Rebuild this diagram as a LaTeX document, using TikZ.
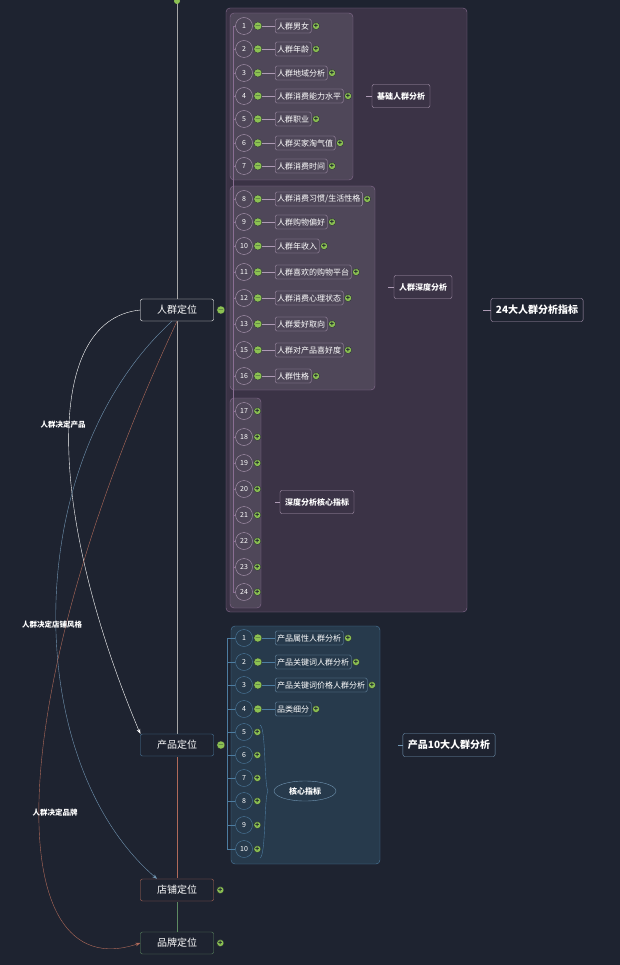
\documentclass[tikz,border=0pt]{standalone}
\usepackage{fontspec}
\setmainfont{Noto Sans CJK SC}
\usetikzlibrary{positioning,arrows.meta,shapes.geometric}
\definecolor{bg}{HTML}{1E2330}
\definecolor{pfill}{HTML}{3B3346}
\definecolor{pline}{HTML}{8A6E93}
\definecolor{bfill}{HTML}{273A4C}
\definecolor{bline}{HTML}{4D7CA0}
\definecolor{tgreen}{HTML}{8CC152}
\definecolor{rline}{HTML}{B06A5A}
\definecolor{gline}{HTML}{5E8A62}
\tikzset{main node/.style={rectangle,rounded corners=2pt,draw=#1,fill=bg,text=white,minimum width=73,minimum height=22,inner sep=0pt,font=\fontsize{10}{10}\selectfont},
         num/.style={circle,draw=#1,fill=none,text=white,minimum size=17,inner sep=0pt,font=\fontsize{7}{7}\selectfont},
         item/.style={rectangle,rounded corners=1.5pt,draw=#1,text=white,inner sep=2pt,minimum height=14,font=\fontsize{8}{8}\selectfont},
         tag/.style={rectangle,rounded corners=2pt,draw=#1,text=white,inner sep=5pt,minimum height=23,font=\bfseries\fontsize{8}{8}\selectfont},
         tog/.style={circle,fill=tgreen,draw=bg,line width=0.3pt,minimum size=7,inner sep=0pt,text=bg,font=\bfseries\fontsize{7}{6}\selectfont},
         curve label/.style={text=white,font=\bfseries\fontsize{7.5}{7.5}\selectfont}
}
\begin{document}
\begin{tikzpicture}[x=1pt,y=-1pt,>=Stealth]
\fill[bg] (0,0) rectangle (620,965);
\useasboundingbox (0,0) rectangle (620,965);
% spine
\draw[gray!70] (177,0) -- (177,735);
\draw[rline] (177,757) -- (177,878);
\draw[gline] (177,902) -- (177,932);
\fill[tgreen] (177,1) circle (3);
% main topics
\node[main node=white!80] (crowd) at (177,310) {人群定位};
\node[main node=bline] (product) at (177,745) {产品定位};
\node[main node=rline] (shop) at (177,890) {店铺定位};
\node[main node=gline] (brand) at (177,943) {品牌定位};
\foreach \n/\s in {crowd/$-$,product/$-$,shop/+,brand/+}
  \node[tog,right=3 of \n] {\s};
% crowd group
\draw[rounded corners=4pt,draw=pline,fill=pfill] (226,8) rectangle (467,612);
\draw[rounded corners=4pt,draw=pline,fill=pfill!90!white] (230,13) rectangle (353,180);
\draw[rounded corners=4pt,draw=pline,fill=pfill!90!white] (230,186) rectangle (375,390);
\draw[rounded corners=4pt,draw=pline,fill=pfill!90!white] (230,398) rectangle (261,608);
\draw[pline] (233,26) -- (233,592);
\foreach \k/\y/\t in {1/26/人群男女,2/49/人群年龄,3/73/人群地域分析,4/96/人群消费能力水平,5/119/人群职业,6/143/人群买家淘气值,7/166/人群消费时间,
  8/199/{人群消费习惯/生活性格},9/222/人群购物偏好,10/246/人群年收入,11/272/人群喜欢的购物平台,12/298/人群消费心理状态,13/324/人群爱好取向,15/350/人群对产品喜好度,16/376/人群性格}{
  \node[num=pline!70!white] (c\k) at (244,\y) {\k};
  \node[tog,right=1 of c\k] (m\k) {$-$};
  \node[item=pline!70!white,anchor=west] (l\k) at (275,\y) {\t};
  \node[tog,right=1 of l\k] {+};
  \draw[pline] (233,\y) -- (c\k);
  \draw[pline!70!white] (m\k) -- (l\k);
}
\foreach \k/\y in {17/411,18/437,19/463,20/489,21/515,22/541,23/567,24/592}{
  \node[num=pline!70!white] (c\k) at (244,\y) {\k};
  \node[tog,right=1 of c\k] {+};
  \draw[pline] (233,\y) -- (c\k);
}
\node[tag=pline!70!white] (basic) at (401,96) {基础人群分析};
\node[tag=pline!70!white] (deep) at (423,287) {人群深度分析};
\node[tag=pline!70!white] (core) at (317,502) {深度分析核心指标};
\node[tag=pline!70!white,font=\bfseries\fontsize{10}{10}\selectfont] (crowd24) at (537,310) {24大人群分析指标};
\draw[pline!70!white] (basic.west) -- ++(-6,0);
\draw[pline!70!white] (deep.west) -- ++(-6,0);
\draw[pline!70!white] (core.west) -- ++(-5,0);
\draw[pline!70!white] (crowd24.west) -- ++(-8,0);
% product group
\draw[rounded corners=4pt,draw=bline,fill=bfill] (231,626) rectangle (380,864);
\draw[bline] (227,638) -- (227,849);
\foreach \k/\y/\t in {1/638/产品属性人群分析,2/662/产品关键词人群分析,3/685/产品关键词价格人群分析,4/709/品类细分}{
  \node[num=bline] (p\k) at (244,\y) {\k};
  \node[tog,right=1 of p\k] (n\k) {$-$};
  \node[item=bline!80!white,anchor=west] (q\k) at (275,\y) {\t};
  \node[tog,right=1 of q\k] {+};
  \draw[bline] (227,\y) -- (p\k);
  \draw[bline] (n\k) -- (q\k);
}
\foreach \k/\y in {5/732,6/755,7/778,8/801,9/825,10/849}{
  \node[num=bline] (p\k) at (244,\y) {\k};
  \node[tog,right=1 of p\k] {+};
  \draw[bline] (227,\y) -- (p\k);
}
\draw[bline] (260,725) .. controls (266,727) and (264,785) .. (268,791) .. controls (264,797) and (266,855) .. (260,858);
\node[ellipse,draw=bline!80!white,text=white,minimum width=62,minimum height=20,inner sep=0pt,font=\bfseries\fontsize{8}{8}\selectfont] (prodcore) at (305,791) {核心指标};
\node[tag=bline!80!white,font=\bfseries\fontsize{10}{10}\selectfont] (prod10) at (449,745) {产品10大人群分析};
\draw[bline!80!white] (prod10.west) -- ++(-5,0);
% relations
\draw[->,white!85] (crowd.west) .. controls (40,320) and (50,520) .. (product.north west);
\draw[->,bline!80] ([xshift=-5]crowd.south) .. controls (20,460) and (20,760) .. ([xshift=-20]shop.north);
\draw[->,rline] (crowd.south) .. controls (0,700) and (0,990) .. (brand.west);
\node[curve label] (l1) at (63,425) {人群决定产品};
\node[curve label] (l2) at (52,625) {人群决定店铺风格};
\node[curve label] (l3) at (55,813) {人群决定品牌};
\end{tikzpicture}
\end{document}
